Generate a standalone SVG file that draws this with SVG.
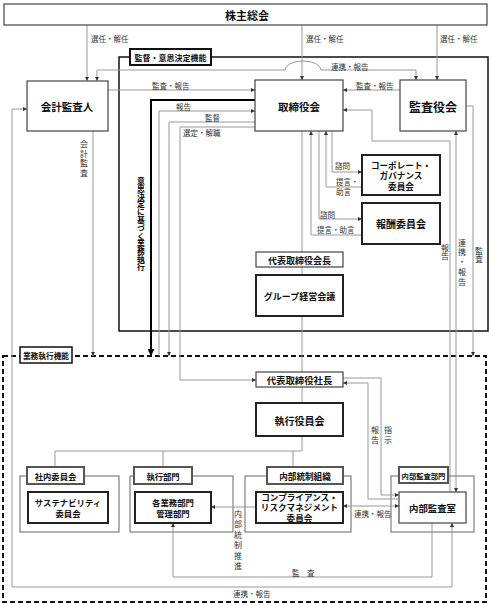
<svg xmlns="http://www.w3.org/2000/svg" width="493" height="606" viewBox="0 0 493 606">
<style>
text{font-family:"Noto Sans CJK JP","Noto Sans CJK SC",sans-serif;dominant-baseline:central}
.n{font-weight:700;fill:#111;text-anchor:middle}
.l{font-size:7.5px;fill:#333}
.v{font-size:8px;fill:#333;text-anchor:middle;writing-mode:vertical-rl}
.c{fill:none;stroke:#999;stroke-width:1}
.box{fill:#fff;stroke:#444;stroke-width:1.2}
.thick{fill:#fff;stroke:#222;stroke-width:2}
.grp{fill:none;stroke:#666;stroke-width:1}
.glab{fill:#fff;stroke:#555;stroke-width:2}
</style>
<defs>
<marker id="a" viewBox="0 0 6 6" refX="6" refY="3" markerWidth="4" markerHeight="4" markerUnits="userSpaceOnUse" orient="auto-start-reverse"><path d="M0,0L6,3L0,6z" fill="#333"/></marker>
<marker id="b" viewBox="0 0 6 6" refX="6" refY="3" markerWidth="7" markerHeight="7" markerUnits="userSpaceOnUse" orient="auto"><path d="M0,0L6,3L0,6z" fill="#000"/></marker>
</defs>
<rect width="493" height="606" fill="#fff"/>

<!-- frames -->
<g id="frame-supervision">
<rect x="119" y="57" width="369" height="274" fill="none" stroke="#111" stroke-width="1.5"/>
</g>
<g id="frame-execution">
<rect x="3" y="356" width="483" height="246" fill="none" stroke="#111" stroke-width="2" stroke-dasharray="5 3"/>
</g>
<g id="groups">
<rect class="grp" x="20" y="476" width="99" height="56"/>
<rect class="grp" x="130" y="476" width="103" height="56"/>
<rect class="grp" x="245" y="476" width="106" height="56"/>
<rect class="grp" x="391" y="476" width="83" height="56"/>
</g>

<g id="connectors">
<path class="c" d="M87,25V81" marker-end="url(#a)"/>
<path class="c" d="M302,25V80" marker-end="url(#a)"/>
<path class="c" d="M437,25V80" marker-end="url(#a)"/>
<path class="c" d="M97,81V70H285A18,9 0 0 1 321,70H416V80" marker-start="url(#a)" marker-end="url(#a)"/>
<path class="c" d="M108,90H255" marker-end="url(#a)"/>
<path class="c" d="M400,90H343" marker-end="url(#a)"/>
<path d="M255,100H151V356" fill="none" stroke="#000" stroke-width="2" marker-end="url(#b)"/>
<path class="c" d="M159,356V111H255" marker-end="url(#a)"/>
<path class="c" d="M255,122H169V356" marker-end="url(#a)"/>
<path class="c" d="M255,127H180V380H256" marker-end="url(#a)"/>
<path class="c" d="M93,131V356" marker-end="url(#a)"/>
<path class="c" d="M27,109H12V587H452V523" marker-start="url(#a)" marker-end="url(#a)"/>
<path class="c" d="M466,106H473V356" marker-end="url(#a)"/>
<path class="c" d="M450,492V141H372V110H343" marker-end="url(#a)"/>
<path class="c" d="M456,131V492" marker-start="url(#a)" marker-end="url(#a)"/>
<path class="c" d="M302,131V403"/>
<path class="c" d="M302,436V451H55V467M163,451V467M293,451V467"/>
<path class="c" d="M332,131V172H362" marker-end="url(#a)"/>
<path class="c" d="M362,187H326V131" marker-end="url(#a)"/>
<path class="c" d="M319,131V219H362" marker-end="url(#a)"/>
<path class="c" d="M362,235H311V131" marker-end="url(#a)"/>
<path class="c" d="M399,499H368V383H343" marker-end="url(#a)"/>
<path class="c" d="M343,378H381V495H399" marker-end="url(#a)"/>
<path class="c" d="M343,506H399" marker-start="url(#a)" marker-end="url(#a)"/>
<path class="c" d="M256,507H211" marker-end="url(#a)"/>
<path class="c" d="M432,523V577H173V523" marker-end="url(#a)"/>
</g>

<g id="connector-labels">
<text class="l" x="91" y="38">選任・解任</text>
<text class="l" x="306" y="38">選任・解任</text>
<text class="l" x="440" y="38">選任・解任</text>
<text class="l" x="331" y="66">連携・報告</text>
<text class="l" x="152" y="85">監査・報告</text>
<text class="l" x="356" y="85">監査・報告</text>
<text class="l" x="176" y="106">報告</text>
<text class="l" x="205" y="117">監督</text>
<text class="l" x="183" y="132">選定・解職</text>
<text class="l" x="335" y="165">諮問</text>
<text class="l" x="336" y="181">提言・</text>
<text class="l" x="336" y="191">助言</text>
<text class="l" x="320" y="214">諮問</text>
<text class="l" x="317" y="229">提言・助言</text>
<text class="l" x="354" y="513">連携・報告</text>
<text class="l" x="292" y="572">監　査</text>
<text class="l" x="233" y="593">連携・報告</text>
<text class="v" x="84" y="159" style="letter-spacing:1.5px">会計監査</text>
<text class="v" x="141" y="224" style="font-weight:700;fill:#000;font-size:7.8px">意思決定に基づく業務執行</text>
<text class="v" x="445" y="252">報告</text>
<text class="v" x="462" y="263" style="letter-spacing:1.7px">連携・報告</text>
<text class="v" x="479" y="255">監査</text>
<text class="v" x="375" y="436" style="letter-spacing:2px">報告</text>
<text class="v" x="388" y="436" style="letter-spacing:2px">指示</text>
<text class="v" x="238" y="541" style="letter-spacing:2.5px">内部統制推進</text>
</g>

<g id="n-shareholders"><rect class="box" x="4" y="4" width="483" height="21"/><text class="n" x="247" y="15" font-size="11">株主総会</text></g>
<g id="n-supervision-label"><rect x="130" y="49" width="81" height="16" fill="#fff" stroke="#111" stroke-width="2"/><text class="n" x="170.5" y="57.5" font-size="8">監督・意思決定機能</text></g>
<g id="n-accounting-auditor"><rect class="box" x="27" y="81" width="81" height="50"/><text class="n" x="67" y="106" font-size="10.5">会計監査人</text></g>
<g id="n-board"><rect class="box" x="255" y="80" width="88" height="51"/><text class="n" x="299" y="106" font-size="10.5">取締役会</text></g>
<g id="n-audit-board"><rect class="box" x="400" y="80" width="66" height="51"/><text class="n" x="433" y="106" font-size="12">監査役会</text></g>
<g id="n-cg-committee"><rect class="thick" x="362" y="155" width="78" height="40"/><text class="n" font-size="8.6"><tspan x="401" y="164.5">コーポレート・</tspan><tspan x="401" y="175">ガバナンス</tspan><tspan x="401" y="185.5">委員会</tspan></text></g>
<g id="n-remuneration"><rect class="thick" x="362" y="203" width="78" height="41"/><text class="n" x="401" y="223.5" font-size="10">報酬委員会</text></g>
<g id="n-chairman"><rect class="box" x="256" y="252" width="87" height="15"/><text class="n" x="299.5" y="260" font-size="9">代表取締役会長</text></g>
<g id="n-group-mgmt"><rect class="thick" x="256" y="275" width="87" height="41"/><text class="n" x="299.5" y="296" font-size="9">グループ経営会議</text></g>
<g id="n-execution-label"><rect x="20" y="347" width="52" height="16" fill="#fff" stroke="#111" stroke-width="1.5"/><text class="n" x="46" y="355.5" font-size="7.7">業務執行機能</text></g>
<g id="n-president"><rect class="box" x="256" y="372" width="87" height="15"/><text class="n" x="299.5" y="380" font-size="9.4">代表取締役社長</text></g>
<g id="n-exec-officers"><rect class="thick" x="256" y="403" width="87" height="33"/><text class="n" x="299.5" y="420" font-size="10">執行役員会</text></g>
<g id="n-internal-committee-label"><rect class="glab" x="27" y="467" width="57" height="17"/><text class="n" x="55.5" y="476" font-size="8.3">社内委員会</text></g>
<g id="n-exec-dept-label"><rect class="glab" x="134" y="467" width="58" height="17"/><text class="n" x="163" y="476" font-size="8.3">執行部門</text></g>
<g id="n-internal-control-label"><rect class="glab" x="267" y="467" width="76" height="17"/><text class="n" x="305" y="476" font-size="8.6">内部統制組織</text></g>
<g id="n-internal-audit-label"><rect class="glab" x="399" y="467" width="49" height="16"/><text class="n" x="423.5" y="475.5" font-size="7.3">内部監査部門</text></g>
<g id="n-sustainability"><rect class="thick" x="28" y="492" width="80" height="31"/><text class="n" font-size="8.4"><tspan x="68" y="502">サステナビリティ</tspan><tspan x="68" y="513">委員会</tspan></text></g>
<g id="n-business-depts"><rect class="thick" x="135" y="492" width="76" height="31"/><text class="n" font-size="8.4"><tspan x="173" y="502">各業務部門</tspan><tspan x="173" y="513">管理部門</tspan></text></g>
<g id="n-compliance"><rect class="thick" x="256" y="492" width="87" height="31"/><text class="n" font-size="8.6"><tspan x="299.5" y="496.5">コンプライアンス・</tspan><tspan x="299.5" y="507">リスクマネジメント</tspan><tspan x="299.5" y="517.5">委員会</tspan></text></g>
<g id="n-internal-audit-office"><rect class="box" x="399" y="492" width="67" height="31"/><text class="n" x="432.5" y="507.5" font-size="9.4">内部監査室</text></g>
</svg>
